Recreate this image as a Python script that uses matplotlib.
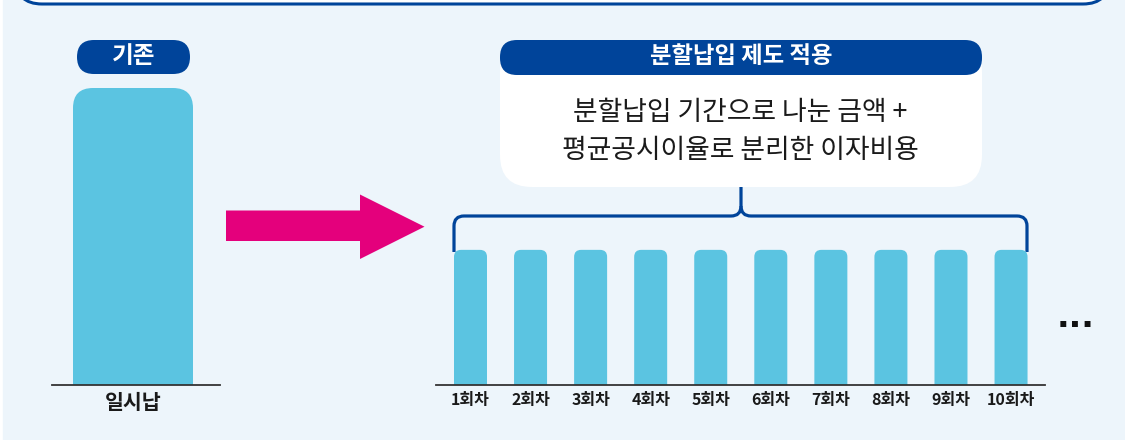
import numpy as np
import matplotlib
matplotlib.use('Agg')
import matplotlib.pyplot as plt
from matplotlib.patches import FancyBboxPatch, Rectangle, Polygon, PathPatch
from matplotlib.path import Path

plt.rcParams['font.family'] = ['Noto Sans CJK KR', 'DejaVu Sans']

# data
lump_label = ['일시납']
lump_value = [100]
inst_labels = ['1회차', '2회차', '3회차', '4회차', '5회차', '6회차', '7회차', '8회차', '9회차', '10회차']
inst_values = [45.5, 45.5, 45.5, 45.5, 45.5, 45.5, 45.5, 45.5, 45.5, 45.5]

tag_before = '기존'
tag_after = '분할납입 제도 적용'
desc_lines = ['분할납입 기간으로 나눈 금액 +', '평균공시이율로 분리한 이자비용']

W, H = 1125, 440
BG = '#EDF5FB'
NAVY = '#00449A'
BAR = '#5BC4E1'
PINK = '#E4007C'
PX_PER_UNIT = 2.97   # vertical px per value unit, shared by both bar panels

fig = plt.figure(figsize=(W / 100, H / 100), dpi=100)
bg = fig.add_axes([0, 0, 1, 1])
bg.set_xlim(0, W)
bg.set_ylim(H, 0)
bg.axis('off')

def px_axes(x0, y0, x1, y1):
    return fig.add_axes([x0 / W, 1 - y1 / H, (x1 - x0) / W, (y1 - y0) / H])

def rbox(x, y, w, h, r, **kw):
    p = FancyBboxPatch((x, y), w, h, boxstyle=f'round,pad=0,rounding_size={r}', **kw)
    bg.add_patch(p)
    return p

# background + top frame
bg.add_patch(Rectangle((3, 0), W, H, color=BG, zorder=0))
rbox(16, -80, 1093, 84, 26, facecolor='white', edgecolor=NAVY, lw=2.2, zorder=1)

# left tag
rbox(77, 40, 113, 34, 17, facecolor=NAVY, edgecolor='none', zorder=2)
bg.text(133.5, 56, tag_before, color='white', fontsize=17, fontweight='bold',
        ha='center', va='center', zorder=3)

# arrow
bg.add_patch(Polygon([(226, 210.5), (360, 210.5), (360, 194.5), (424.5, 226.7),
                      (360, 259), (360, 241), (226, 241)],
                     closed=True, facecolor=PINK, edgecolor='none', zorder=2))

# right description box
rbox(500, 40, 482, 147, 32, facecolor='white', edgecolor='none', zorder=2)
rbox(500, 40, 482, 35, 17, facecolor=NAVY, edgecolor='none', zorder=3)
bg.text(741, 56, tag_after, color='white', fontsize=16.8, fontweight='bold',
        ha='center', va='center', zorder=4)
bg.text(740, 112, desc_lines[0], color='#1a1a1a', fontsize=19.3, ha='center', va='center', zorder=4)
bg.text(740, 150, desc_lines[1], color='#1a1a1a', fontsize=19.3, ha='center', va='center', zorder=4)

# bracket
r = 10
verts = [(454, 252), (454, 216 + r), (454, 216), (454 + r, 216),
         (741 - r, 216), (741, 216), (741, 216 - r), (741, 187)]
codes = [Path.MOVETO, Path.LINETO, Path.CURVE3, Path.CURVE3,
         Path.LINETO, Path.CURVE3, Path.CURVE3, Path.LINETO]
verts2 = [(741, 216 - r), (741, 216), (741 + r, 216), (1027 - r, 216),
          (1027, 216), (1027, 216 + r), (1027, 252)]
codes2 = [Path.MOVETO, Path.CURVE3, Path.CURVE3, Path.LINETO,
          Path.CURVE3, Path.CURVE3, Path.LINETO]
for v, c in ((verts, codes), (verts2, codes2)):
    bg.add_patch(PathPatch(Path(v, c), facecolor='none', edgecolor=NAVY, lw=2.3,
                           capstyle='butt', joinstyle='round', zorder=2))

bg.text(1076, 327, '...', color='#111111', fontsize=24, fontweight='bold',
        ha='center', va='baseline', family='DejaVu Sans', zorder=2)


def bar_panel(ax, labels, values, width, radius_px, px_per_x, ylim, label_size, label_weight):
    rects = ax.bar(np.arange(len(values)), values, width, color=BAR, zorder=1)
    rx = radius_px / px_per_x
    ry = radius_px / PX_PER_UNIT
    for rc in rects:
        x, w_, h_ = rc.get_x(), rc.get_width(), rc.get_height()
        ax.add_patch(FancyBboxPatch((x, -ry), w_, h_ + ry,
                                    boxstyle=f'round,pad=0,rounding_size={rx}',
                                    mutation_aspect=ry / rx, facecolor=BAR,
                                    edgecolor='none', zorder=2))
        rc.set_visible(False)
    ax.set_ylim(0, ylim)
    ax.axhline(0, color='#333333', lw=1.3, zorder=3, clip_on=False)
    ax.set_xticks(np.arange(len(values)))
    ax.set_xticklabels(labels, fontsize=label_size, fontweight=label_weight, color='#1a1a1a')
    ax.tick_params(axis='x', length=0, pad=5)
    ax.set_yticks([])
    for s in ax.spines.values():
        s.set_visible(False)
    ax.patch.set_alpha(0)


# left panel: x 52..220 px, baseline at 385 px
ylim_l = 105
axl = px_axes(52, 385 - ylim_l * PX_PER_UNIT, 220, 385)
pxl = 168.0
axl.set_xlim(-(133 - 52) / pxl, (220 - 133) / pxl)
bar_panel(axl, lump_label, lump_value, 120 / pxl, 20, pxl, ylim_l, 14.8, 'bold')

# right panel: x 436..1045 px
ylim_r = 50
axr = px_axes(436, 385 - ylim_r * PX_PER_UNIT, 1045, 385)
pxr = 60.06
x_left = -(470.5 - 436) / pxr
axr.set_xlim(x_left, x_left + 609 / pxr)
bar_panel(axr, inst_labels, inst_values, 33 / pxr, 7, pxr, ylim_r, 11.5, 'bold')

fig.savefig('out.png', dpi=100, facecolor='white')
